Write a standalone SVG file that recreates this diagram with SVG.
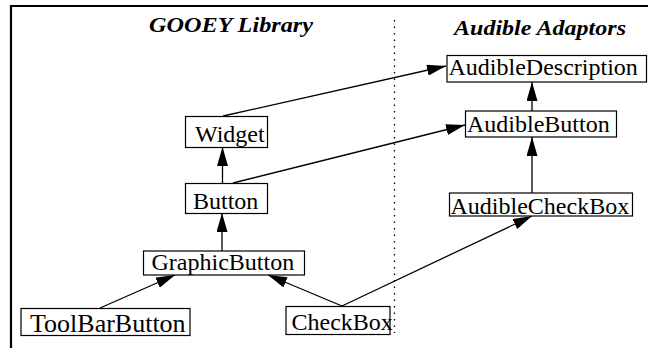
<svg xmlns="http://www.w3.org/2000/svg" width="648" height="348" viewBox="0 0 648 348">
<defs>
<style>
.box{fill:#fff;stroke:#000;stroke-width:1.2}
.lbl{font-family:"Liberation Serif","Times New Roman",serif;font-size:24px;fill:#000}
.title{font-family:"Liberation Serif","Times New Roman",serif;font-size:22px;font-weight:bold;font-style:italic;fill:#000}
.conn{stroke:#000;stroke-width:1.3;fill:none;marker-end:url(#arr)}
</style>
<marker id="arr" markerUnits="userSpaceOnUse" markerWidth="19" markerHeight="11" refX="19" refY="5.5" orient="auto">
<path d="M0,0 L19,5.5 L0,11 z" fill="#000"/>
</marker>
</defs>
<rect width="648" height="348" fill="#fff"/>
<path d="M11,348 V6 H648" fill="none" stroke="#000" stroke-width="2.2"/>
<line x1="394.5" y1="20" x2="394.5" y2="333" stroke="#000" stroke-width="1.3" stroke-dasharray="1.5 5"/>
<text class="title" x="149" y="32" textLength="164" lengthAdjust="spacingAndGlyphs">GOOEY Library</text>
<text class="title" x="454" y="35" textLength="172" lengthAdjust="spacingAndGlyphs">Audible Adaptors</text>
<g id="connectors">
<line class="conn" x1="223" y1="116" x2="446" y2="66"/>
<line class="conn" x1="233" y1="183" x2="465" y2="125"/>
<line class="conn" x1="222.5" y1="183" x2="222.5" y2="147"/>
<line class="conn" x1="222" y1="251" x2="222" y2="213"/>
<line class="conn" x1="100" y1="308" x2="175" y2="275"/>
<line class="conn" x1="342" y1="306" x2="268" y2="275"/>
<line class="conn" x1="342" y1="306" x2="532" y2="216"/>
<line class="conn" x1="532" y1="193" x2="532" y2="137"/>
<line class="conn" x1="532" y1="111" x2="532" y2="82"/>
</g>
<g id="Widget"><rect class="box" x="185.5" y="116.5" width="82" height="31"/><text class="lbl" x="195" y="141.5">Widget</text></g>
<g id="Button"><rect class="box" x="185.5" y="183.5" width="82" height="30"/><text class="lbl" x="193" y="208.5">Button</text></g>
<g id="GraphicButton"><rect class="box" x="143.5" y="251" width="161" height="24"/><text class="lbl" x="151.5" y="269.5">GraphicButton</text></g>
<g id="ToolBarButton"><rect class="box" x="21" y="308.5" width="169" height="27"/><text class="lbl" x="30" y="331.5" style="font-size:26px">ToolBarButton</text></g>
<g id="CheckBox"><rect class="box" x="286" y="306.5" width="104" height="28"/><text class="lbl" x="291.5" y="329.5">CheckBox</text></g>
<g id="AudibleDescription"><rect class="box" x="447" y="55.5" width="199.5" height="26.5"/><text class="lbl" x="448.5" y="74.5">AudibleDescription</text></g>
<g id="AudibleButton"><rect class="box" x="465.5" y="111" width="151" height="26"/><text class="lbl" x="467" y="131.5">AudibleButton</text></g>
<g id="AudibleCheckBox"><rect class="box" x="449.5" y="193" width="183" height="23"/><text class="lbl" x="450.5" y="214">AudibleCheckBox</text></g>
</svg>
